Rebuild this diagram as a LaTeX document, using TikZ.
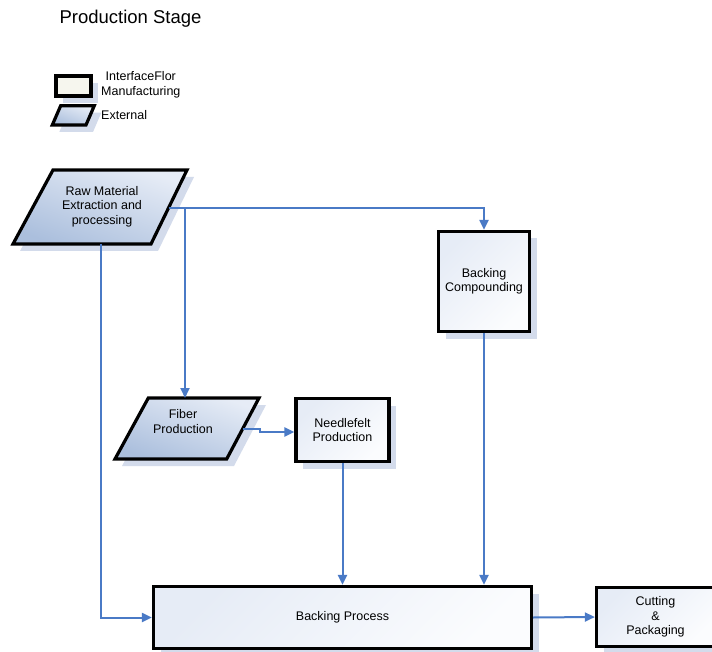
\documentclass[tikz,border=0pt]{standalone}
\usepackage{fontspec}
\setmainfont{Liberation Sans}
\usetikzlibrary{arrows.meta,shadows}
\definecolor{connc}{HTML}{4A7AC6}
\definecolor{shadowc}{HTML}{D3DBEB}
\definecolor{paraL}{HTML}{E6ECF6}
\definecolor{paraD}{HTML}{ABBFDD}
\definecolor{boxL}{HTML}{E6ECF6}
\definecolor{boxD}{HTML}{FBFCFE}
\definecolor{legendc}{HTML}{F6F6EE}
\begin{document}
\begin{tikzpicture}[x=1pt,y=-1pt,
  font=\fontsize{12.5}{14.5}\selectfont,
  conn/.style={draw=connc, line width=2pt, -{Triangle[length=10pt,width=9pt]}},
  plainconn/.style={draw=connc, line width=2pt},
  boxnode/.style={draw=black, line width=3.2pt, align=center, inner sep=0pt,
    top color=boxL, bottom color=boxD, shading angle=45,
    drop shadow={shadow xshift=7pt, shadow yshift=-7pt, fill=shadowc, opacity=1}},
  parafill/.style={draw=black, line width=3.2pt, top color=paraL, bottom color=paraD, shading angle=-20},
  paratext/.style={align=center, inner sep=0pt}
]
\useasboundingbox (0,0) rectangle (712,652);

% title
\node[font=\fontsize{18.5}{20}\selectfont, inner sep=0pt] (title) at (130.5,18.5) {Production Stage};

% legend
\node[boxnode, minimum width=35pt, minimum height=20pt, top color=legendc, bottom color=legendc] (legrect) at (73.5,86) {};
\node[anchor=west, align=center, inner sep=0pt] (legrecttext) at (101,85) {InterfaceFlor\\Manufacturing};
\fill[shadowc] (67.7,112.7) -- (101.3,112.7) -- (93,132) -- (59.3,132) -- cycle;
\path[parafill] (60.7,105.7) -- (94.3,105.7) -- (86,125) -- (52.3,125) -- cycle;
\node[anchor=west, inner sep=0pt] (legparatext) at (101,115.5) {External};

% Raw material parallelogram
\fill[shadowc] (60,177) -- (194,177) -- (158,251) -- (20,251) -- cycle;
\path[parafill] (53,170) -- (187,170) -- (151,244) -- (13,244) -- cycle;
\node[paratext] (raw) at (102,206.5) {Raw Material\\Extraction and\\processing};
\coordinate (rawR) at (168.5,208);
\coordinate (rawB) at (101,244);
\coordinate (branch) at (185,208);

% Fiber production parallelogram
\fill[shadowc] (155,405) -- (266,405) -- (234,466) -- (122,466) -- cycle;
\path[parafill] (148.3,398) -- (259,398) -- (226.7,459) -- (115,459) -- cycle;
\node[paratext] (fiber) at (183,421.5) {Fiber\\Production};
\coordinate (fibT) at (185,398);
\coordinate (fibR) at (242.5,429);

% rectangles
\node[boxnode, minimum width=91pt, minimum height=100pt] (bc) at (484,281.5) {Backing\\Compounding};
\node[boxnode, minimum width=93pt, minimum height=63pt] (nf) at (342.5,430) {Needlefelt\\Production};
\node[boxnode, minimum width=378pt, minimum height=62pt] (bp) at (342.5,617.5) {Backing Process};
\node[boxnode, minimum width=118pt, minimum height=59pt] (cp) at (655.5,617) {Cutting\\\&\\Packaging};

% connectors
\draw[plainconn] (rawR) -- (branch);
\draw[conn] (branch) -| (bc.north);
\draw[conn] (branch) -- (fibT);
\draw[conn] (rawB) |- (bp.west);
\draw[conn] (fibR) -- ++(17,0) |- ([yshift=-2pt]nf.west);
\draw[conn] (nf.south) -- (nf.south |- bp.north);
\draw[conn] (bc.south) -- (bc.south |- bp.north);
\draw[conn] (bp.east) -- (cp.west);
\end{tikzpicture}
\end{document}
